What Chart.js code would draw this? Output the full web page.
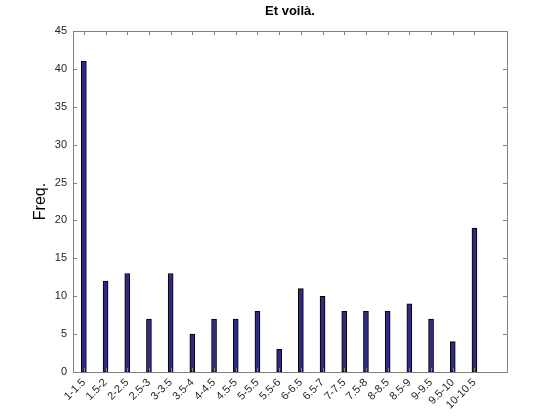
<!DOCTYPE html>
<html>
<head>
<meta charset="utf-8">
<script src="https://cdn.jsdelivr.net/npm/chart.js@4/dist/chart.umd.min.js"></script>
<style>
html,body{margin:0;padding:0;background:#fff;}
#wrap{width:560px;height:420px;}
</style>
</head>
<body>
<div id="wrap"><canvas id="c" width="560" height="420"></canvas></div>
<script>
const categories = ['1-1.5','1.5-2','2-2.5','2.5-3','3-3.5','3.5-4','4-4.5','4.5-5','5-5.5','5.5-6','6-6.5','6.5-7','7-7.5','7.5-8','8-8.5','8.5-9','9-9.5','9.5-10','10-10.5'];
const freq = [41,12,13,7,13,5,7,7,8,3,11,10,8,8,8,9,7,4,19];
const yTicks = [0,5,10,15,20,25,30,35,40,45];
const titleText = 'Et voilà.';
const yLabel = 'Freq.';

// one empty slot after the last bin, as in the reference axis range
const labels = categories.concat(['']);
const values = freq.concat([null]);

const FONT = "'Liberation Sans', Arial, sans-serif";
const AXIS = '#808080';

const boxTicks = {
  id: 'boxTicks',
  afterDatasetsDraw(chart) {
    const {ctx, chartArea: a, scales} = chart;
    ctx.save();
    ctx.strokeStyle = AXIS;
    ctx.lineWidth = 1;
    ctx.beginPath();
    const L = 4;
    yTicks.forEach(v => {
      const y = Math.round(scales.y.getPixelForValue(v)) + 0.5;
      ctx.moveTo(a.left, y); ctx.lineTo(a.left + L, y);
      ctx.moveTo(a.right, y); ctx.lineTo(a.right - L, y);
    });
    categories.forEach((c, i) => {
      const x = Math.round(scales.x.getPixelForValue(i)) + 0.5;
      ctx.moveTo(x, a.top); ctx.lineTo(x, a.top + L);
      ctx.moveTo(x, a.bottom); ctx.lineTo(x, a.bottom - L);
    });
    ctx.stroke();
    ctx.beginPath();
    ctx.rect(Math.round(a.left) + 0.5, Math.round(a.top) + 0.5, Math.round(a.right - a.left), Math.round(a.bottom - a.top));
    ctx.stroke();
    // title centred over the plot box
    ctx.fillStyle = '#000';
    ctx.font = "bold 13px " + FONT;
    ctx.textAlign = 'center';
    ctx.textBaseline = 'middle';
    ctx.fillText(titleText, (a.left + a.right) / 2, 11);
    ctx.restore();
  }
};

new Chart(document.getElementById('c'), {
  type: 'bar',
  data: {
    labels: labels,
    datasets: [{
      data: values,
      backgroundColor: '#2d2a88',
      borderColor: '#000000',
      borderWidth: 1,
      borderSkipped: false,
      barThickness: 5
    }]
  },
  options: {
    responsive: false,
    animation: false,
    layout: {padding: {left: 0, right: 53, top: 31, bottom: 0}},
    plugins: {
      legend: {display: false},
      tooltip: {enabled: false},
      title: {display: false}
    },
    scales: {
      x: {
        type: 'category',
        offset: true,
        grid: {display: false, drawTicks: false},
        border: {display: false},
        ticks: {
          color: '#262626',
          font: {family: FONT, size: 11},
          maxRotation: 45,
          minRotation: 45,
          autoSkip: false,
          padding: 4
        },
        afterFit(s) { s.height = 48; }
      },
      y: {
        min: 0,
        max: 45,
        grid: {display: false, drawTicks: false},
        border: {display: false},
        ticks: {
          stepSize: 5,
          color: '#262626',
          font: {family: FONT, size: 11},
          padding: 6
        },
        title: {
          display: true,
          text: yLabel,
          color: '#000',
          font: {family: FONT, size: 16, lineHeight: 1.2},
          padding: {top: 31, bottom: 0}
        },
        afterFit(s) { s.width = 73; }
      }
    }
  },
  plugins: [boxTicks]
});
</script>
</body>
</html>
